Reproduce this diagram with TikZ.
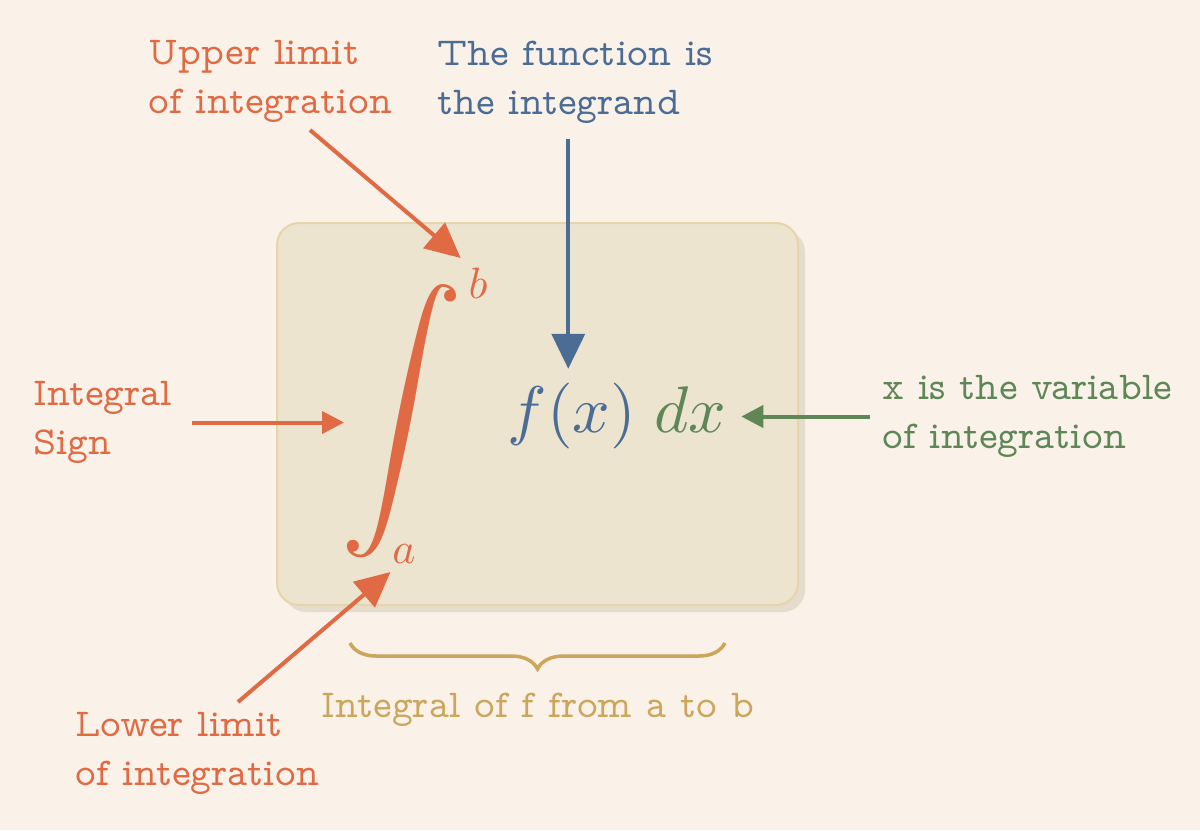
\documentclass[tikz,border=0pt]{standalone}
\usepackage{amsmath}
\usepackage{tikz}
\usetikzlibrary{positioning,arrows.meta,shadows,calc,decorations.pathreplacing}
\usepackage{xcolor}
\definecolor{bgcream}{HTML}{FAF2E8}
\definecolor{boxfill}{HTML}{EDE4D0}
\definecolor{boxline}{HTML}{E7D5AA}
\definecolor{boxshadow}{HTML}{E5DCCD}
\definecolor{limorange}{HTML}{DF6A44}
\definecolor{fnblue}{HTML}{4A6C95}
\definecolor{vargreen}{HTML}{5E8656}
\definecolor{spangold}{HTML}{CBA65C}
\newcommand{\calloutfont}{\fontfamily{lmvtt}\fontsize{22.5}{28}\selectfont}

\begin{document}
\begin{tikzpicture}[
    callout/.style={anchor=west, inner sep=0pt, align=left, font=\calloutfont},
    bigarrow/.style={-{Triangle[length=0.7cm,width=0.66cm]}, line width=0.08cm},
    smallarrow/.style={-{Triangle[length=0.44cm,width=0.44cm]}, line width=0.08cm},
    mathpart/.style={inner sep=0pt, scale=3.75, transform shape},
    limit/.style={inner sep=0pt, scale=2.5, transform shape, text=limorange},
]
\useasboundingbox (0,0) rectangle (24,-16.6);
\fill[bgcream] (0,0) rectangle (24,-16.6);

% Box holding the integral
\node[draw=boxline, line width=0.04cm, fill=boxfill, rounded corners=0.44cm,
      minimum width=10.42cm, minimum height=7.64cm,
      drop shadow={shadow xshift=0.14cm, shadow yshift=-0.14cm, fill=boxshadow, opacity=1}] (box) at (10.75,-8.28) {};

% The integral
\node[inner sep=0pt, scale=7, transform shape, text=limorange] (intsign) at (8.04,-8.42) {$\displaystyle\int$};
\node[limit] (bsup) at (9.56,-5.66) {$b$};
\node[limit] (asub) at (8.08,-11.08) {$a$};
\node[mathpart, anchor=base, text=fnblue] (fx) at (11.44,-8.64) {$f(x)$};
\node[mathpart, anchor=base, text=vargreen] (dx) at (13.81,-8.64) {$dx$};

% Callouts
\node[callout, text=limorange] (upper) at (2.96,-1.63) {Upper limit\\of integration};
\node[callout, text=fnblue] (func) at (8.74,-1.64) {The function is\\the integrand};
\node[callout, text=limorange] (sign) at (0.66,-8.45) {Integral\\Sign};
\node[callout, text=vargreen] (var) at (17.64,-8.33) {x is the variable\\of integration};
\node[callout, text=limorange] (lower) at (1.50,-15.07) {Lower limit\\of integration};

% Span of the integral
\draw[spangold, line width=0.07cm, decorate, decoration={brace, mirror, amplitude=0.52cm}] (7.0,-12.86) -- (14.5,-12.86);
\node[callout, anchor=base, text=spangold] (span) at (10.76,-14.34) {Integral of f from a to b};

% Arrows
\draw[bigarrow, limorange] ([xshift=3.24cm, yshift=-0.97cm]upper.west) -- ([xshift=-0.14cm, yshift=0.5cm]bsup.west);
\draw[bigarrow, limorange] ([xshift=3.26cm, yshift=1.03cm]lower.west) -- ([xshift=-0.02cm, yshift=-0.36cm]asub.west);
\draw[bigarrow, fnblue, shorten <=0.31cm, shorten >=0.25cm] ([xshift=-0.14cm]func.south) -- ([xshift=-0.14cm]func.south |- fx.north);
\draw[smallarrow, vargreen, shorten <=0.24cm, shorten >=0.27cm] (var.west) -- (var.west -| dx.east);
\draw[smallarrow, limorange, shorten <=0.38cm, shorten >=-0.12cm] (sign.east) -- (sign.east -| intsign.west);

\end{tikzpicture}
\end{document}
